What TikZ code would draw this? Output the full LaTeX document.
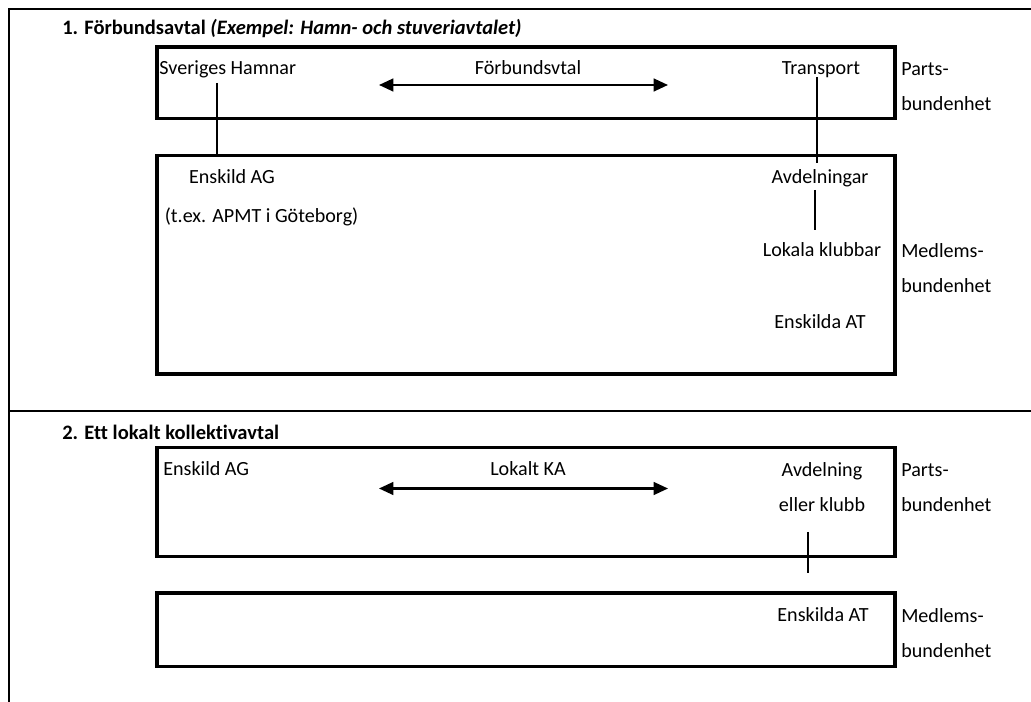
\documentclass[tikz,border=0pt]{standalone}
\usepackage{fontspec}
\setmainfont{Carlito}[Ligatures=NoCommon]
\usepackage{xcolor}
\usepackage{tikz}
\usetikzlibrary{arrows.meta}
\definecolor{KAInk}{HTML}{000000}

\begin{document}
\begin{tikzpicture}[x=1cm,y=1cm,
  txt/.style={inner sep=0pt,text=KAInk,font=\fontsize{14.3}{25.2}\selectfont},
  head/.style={txt,anchor=base west,font=\fontsize{14.6}{17}\selectfont\bfseries},
  box/.style={draw=KAInk,line width=2.3pt,inner sep=0pt,rectangle},
  frame/.style={draw=KAInk,line width=2pt},
  link/.style={draw=KAInk,line width=1.5pt},
  pact/.style={draw=KAInk,line width=1.5pt,{Triangle[length=0.36cm,width=0.32cm]}-{Triangle[length=0.36cm,width=0.32cm]}}]
\path[use as bounding box] (0,0) rectangle (25.775,17.55);
\draw[frame] (25.775,17.325) -- (0.225,17.325) -- (0.225,0);
\draw[frame] (0.225,7.275) -- (25.775,7.275);
\node[head] (head1) at (1.55,16.675) {1. Förbundsavtal \itshape (Exempel: Hamn- och stuveriavtalet)};
\node[box,minimum width=18.45cm,minimum height=1.7875cm] (parts1) at (13.15,15.48) {};
\node[box,minimum width=18.45cm,minimum height=5.4625cm] (medl1) at (13.15,10.93) {};
\node[txt,anchor=base west] (hamnar) at (3.98,15.675) {Sveriges Hamnar};
\node[txt,anchor=base] (fbavtal) at (13.2,15.675) {Förbundsvtal};
\node[txt,anchor=base] (transport) at (20.525,15.675) {Transport};
\node[txt,anchor=base west,align=left] (side1) at (22.525,14.7875) {Parts-\\bundenhet};
\node[txt,anchor=base] (ag1) at (5.8,12.95) {Enskild AG};
\node[txt,anchor=base] (apmt) at (6.54,11.975) {(t.ex. APMT i Göteborg)};
\node[txt,anchor=base] (avd) at (20.5,12.95) {Avdelningar};
\node[txt,anchor=base] (lok) at (20.55,11.1375) {Lokala klubbar};
\node[txt,anchor=base west,align=left] (side2) at (22.525,10.2375) {Medlems-\\bundenhet};
\node[txt,anchor=base] (at1) at (20.5,9.3375) {Enskilda AT};
\coordinate (fb-l) at (9.475,15.425);
\coordinate (fb-r) at (16.7,15.425);
\coordinate (hamnar-foot) at (5.425,15.475);
\coordinate (transport-foot) at (20.425,15.625);
\coordinate (avd-top) at (20.425,13.475);
\coordinate (avd-foot) at (20.375,12.8);
\coordinate (lok-top) at (20.375,11.8);
\draw[pact] (fb-l) -- (fb-r);
\draw[link] (hamnar-foot) -- (hamnar-foot |- medl1.north);
\draw[link] (transport-foot) -- (avd-top);
\draw[link] (avd-foot) -- (lok-top);
\node[head] (head2) at (1.55,6.5625) {2. Ett lokalt kollektivavtal};
\node[box,minimum width=18.45cm,minimum height=2.725cm] (parts2) at (13.15,5.0) {};
\node[box,minimum width=18.45cm,minimum height=1.8375cm] (medl2) at (13.15,1.80625) {};
\node[txt,anchor=base west] (ag2) at (4.075,5.6625) {Enskild AG};
\node[txt,anchor=base] (lokka) at (13.2,5.6625) {Lokalt KA};
\node[txt,anchor=base,align=center] (avdkl) at (20.55,4.7625) {Avdelning\\eller klubb};
\node[txt,anchor=base west,align=left] (side3) at (22.525,4.7625) {Parts-\\bundenhet};
\node[txt,anchor=base] (at2) at (20.575,2.0125) {Enskilda AT};
\node[txt,anchor=base west,align=left] (side4) at (22.525,1.1125) {Medlems-\\bundenhet};
\coordinate (ka-l) at (9.475,5.3375);
\coordinate (ka-r) at (16.7,5.3375);
\coordinate (avdkl-foot) at (20.2,4.25);
\coordinate (at2-top) at (20.2,3.225);
\draw[pact] (ka-l) -- (ka-r);
\draw[link] (avdkl-foot) -- (at2-top);
\end{tikzpicture}
\end{document}
